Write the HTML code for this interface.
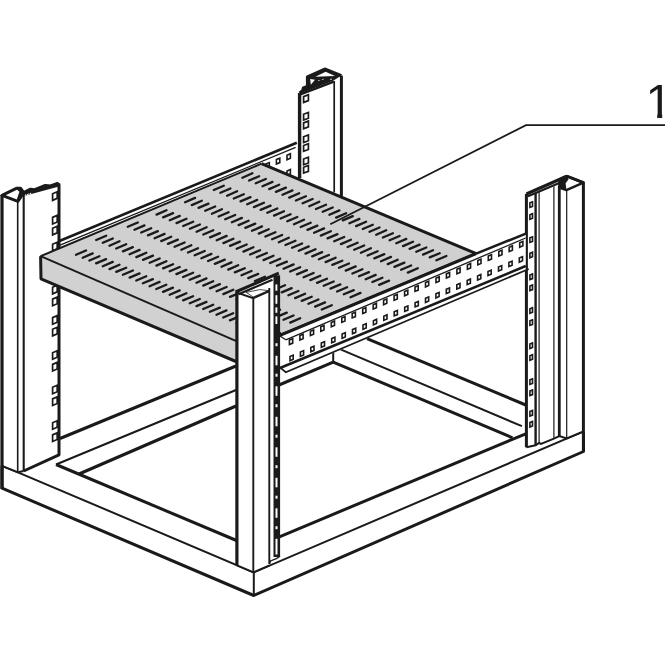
<!DOCTYPE html>
<html><head><meta charset="utf-8"><title>Rack shelf</title>
<style>
html,body{margin:0;padding:0;background:#fff;}
body{position:relative;width:665px;height:665px;overflow:hidden;font-family:"Liberation Sans",sans-serif;}
svg{display:block;position:absolute;left:0;top:0;}
.lbl{position:absolute;left:645.4px;top:77.04px;width:27px;height:48.26px;font-family:"Liberation Sans",sans-serif;font-size:48.26px;line-height:1;color:#1a1a1a;white-space:nowrap;clip-path:polygon(0 0,100% 0,100% 36.9px,16.8px 36.9px,16.8px 100%,11.8px 100%,11.8px 36.9px,0 36.9px);}
</style></head><body>
<svg width="665" height="665" viewBox="0 0 665 665">
<rect width="665" height="665" fill="#fff"/>
<path d="M59.4,241.0 L296.8,142.8 L299.4,144.0 L299.4,178.0 L59.4,278.0 Z" fill="#fff" stroke="none"/>
<path d="M59.4,241.0 L296.8,142.8" fill="none" stroke="#1a1a1a" stroke-width="2.6" stroke-linejoin="miter" stroke-linecap="butt"/>
<path d="M59.4,245.4 L295.6,147.4" fill="none" stroke="#1a1a1a" stroke-width="1.3" stroke-linejoin="miter" stroke-linecap="butt"/>
<path d="M287.0,155.3 L290.4,153.8 L290.4,158.2 L287.0,159.7 Z" fill="#fff" stroke="#1a1a1a" stroke-width="1.6" stroke-linejoin="miter" stroke-linecap="butt"/>
<path d="M276.4,159.6 L279.8,158.2 L279.8,162.6 L276.4,164.0 Z" fill="#fff" stroke="#1a1a1a" stroke-width="1.6" stroke-linejoin="miter" stroke-linecap="butt"/>
<path d="M265.9,164.0 L269.3,162.6 L269.3,167.0 L265.9,168.4 Z" fill="#fff" stroke="#1a1a1a" stroke-width="1.6" stroke-linejoin="miter" stroke-linecap="butt"/>
<path d="M255.4,168.4 L258.8,166.9 L258.8,171.3 L255.4,172.8 Z" fill="#fff" stroke="#1a1a1a" stroke-width="1.6" stroke-linejoin="miter" stroke-linecap="butt"/>
<path d="M244.8,172.7 L248.2,171.3 L248.2,175.7 L244.8,177.1 Z" fill="#fff" stroke="#1a1a1a" stroke-width="1.6" stroke-linejoin="miter" stroke-linecap="butt"/>
<path d="M234.2,177.1 L237.6,175.7 L237.6,180.1 L234.2,181.5 Z" fill="#fff" stroke="#1a1a1a" stroke-width="1.6" stroke-linejoin="miter" stroke-linecap="butt"/>
<path d="M287.0,171.1 L290.4,169.6 L290.4,174.0 L287.0,175.5 Z" fill="#fff" stroke="#1a1a1a" stroke-width="1.6" stroke-linejoin="miter" stroke-linecap="butt"/>
<path d="M276.4,175.4 L279.8,174.0 L279.8,178.4 L276.4,179.8 Z" fill="#fff" stroke="#1a1a1a" stroke-width="1.6" stroke-linejoin="miter" stroke-linecap="butt"/>
<path d="M265.9,179.8 L269.3,178.4 L269.3,182.8 L265.9,184.2 Z" fill="#fff" stroke="#1a1a1a" stroke-width="1.6" stroke-linejoin="miter" stroke-linecap="butt"/>
<path d="M299.6,93.0 L302.6,90.6 L303.3,88.0 L307.4,86.4 L307.4,76.8 L324.7,69.0 L341.4,75.6 L341.4,196.0 L299.6,178.0 Z" fill="#fff" stroke="none"/>
<path d="M307.4,76.8 L324.7,69.0 L341.4,75.6 L333.6,80.6 L300.5,93.6 L299.6,93.0 L302.6,90.6 L303.3,88.0 L307.4,86.4 Z" fill="#1a1a1a" stroke="none"/>
<path d="M315.4,76.8 L325.6,71.8 L335.0,75.9 Z" fill="#fff" stroke="none"/>
<path d="M310.2,79.0 L315.0,79.8 L310.8,84.8 Z" fill="#fff" stroke="none"/>
<path d="M317.6,80.6 L319.4,79.9 L319.4,81.3 Z" fill="#fff" stroke="none"/>
<path d="M321.6,79.4 L323.4,78.7 L323.4,80.1 Z" fill="#fff" stroke="none"/>
<path d="M329.6,79.2 L331.6,78.5 L331.6,79.9 Z" fill="#fff" stroke="none"/>
<path d="M299.6,93.0 L302.6,90.6 L303.3,88.0 L307.4,86.4 L307.4,76.8 L324.7,69.0 L341.4,75.6" fill="none" stroke="#1a1a1a" stroke-width="3.0" stroke-linejoin="round" stroke-linecap="butt"/>
<path d="M300.4,94.4 L333.8,81.6" fill="none" stroke="#1a1a1a" stroke-width="2.4" stroke-linejoin="miter" stroke-linecap="butt"/>
<path d="M334.2,81.0 L334.2,192.5" fill="none" stroke="#1a1a1a" stroke-width="1.7" stroke-linejoin="miter" stroke-linecap="butt"/>
<path d="M341.4,75.6 L341.4,196.0" fill="none" stroke="#1a1a1a" stroke-width="3.0" stroke-linejoin="miter" stroke-linecap="butt"/>
<path d="M299.6,93.0 L299.6,178.0" fill="none" stroke="#1a1a1a" stroke-width="3.4" stroke-linejoin="miter" stroke-linecap="butt"/>
<path d="M303.6,96.6 L308.4,94.8 L308.4,100.6 L303.6,102.4 Z" fill="#fff" stroke="#1a1a1a" stroke-width="1.7" stroke-linejoin="miter" stroke-linecap="butt"/>
<path d="M303.6,114.2 L308.4,112.4 L308.4,118.2 L303.6,120.0 Z" fill="#fff" stroke="#1a1a1a" stroke-width="1.7" stroke-linejoin="miter" stroke-linecap="butt"/>
<path d="M303.6,122.9 L308.4,121.1 L308.4,126.9 L303.6,128.7 Z" fill="#fff" stroke="#1a1a1a" stroke-width="1.7" stroke-linejoin="miter" stroke-linecap="butt"/>
<path d="M303.6,136.7 L308.4,134.9 L308.4,140.7 L303.6,142.5 Z" fill="#fff" stroke="#1a1a1a" stroke-width="1.7" stroke-linejoin="miter" stroke-linecap="butt"/>
<path d="M303.6,145.5 L308.4,143.7 L308.4,149.5 L303.6,151.3 Z" fill="#fff" stroke="#1a1a1a" stroke-width="1.7" stroke-linejoin="miter" stroke-linecap="butt"/>
<path d="M303.6,159.0 L308.4,157.2 L308.4,163.0 L303.6,164.8 Z" fill="#fff" stroke="#1a1a1a" stroke-width="1.7" stroke-linejoin="miter" stroke-linecap="butt"/>
<path d="M303.6,167.3 L308.4,165.5 L308.4,171.3 L303.6,173.1 Z" fill="#fff" stroke="#1a1a1a" stroke-width="1.7" stroke-linejoin="miter" stroke-linecap="butt"/>
<path d="M2.0,465.6 L60.0,438.5 L334.0,326.0 L333.7,349.0 L56.0,464.5 Z" fill="#fff" stroke="none"/>
<path d="M60.0,438.5 L236.0,366.0" fill="none" stroke="#1a1a1a" stroke-width="3.0" stroke-linejoin="miter" stroke-linecap="butt"/>
<path d="M56.0,464.5 L236.0,390.0" fill="none" stroke="#1a1a1a" stroke-width="2.0" stroke-linejoin="miter" stroke-linecap="butt"/>
<path d="M79.0,474.0 L236.0,406.0" fill="none" stroke="#1a1a1a" stroke-width="3.0" stroke-linejoin="miter" stroke-linecap="butt"/>
<path d="M279.0,385.0 L333.2,362.1" fill="none" stroke="#1a1a1a" stroke-width="3.0" stroke-linejoin="miter" stroke-linecap="butt"/>
<path d="M333.2,352.0 L333.2,362.1" fill="none" stroke="#1a1a1a" stroke-width="2.0" stroke-linejoin="miter" stroke-linecap="butt"/>
<path d="M367.0,338.6 L525.8,405.0" fill="none" stroke="#1a1a1a" stroke-width="3.0" stroke-linejoin="miter" stroke-linecap="butt"/>
<path d="M340.5,349.3 L521.9,426.2" fill="none" stroke="#1a1a1a" stroke-width="2.0" stroke-linejoin="miter" stroke-linecap="butt"/>
<path d="M333.2,362.1 L512.5,437.8" fill="none" stroke="#1a1a1a" stroke-width="3.0" stroke-linejoin="miter" stroke-linecap="butt"/>
<path d="M56.0,464.5 L236.5,540.5" fill="none" stroke="#1a1a1a" stroke-width="3.0" stroke-linejoin="miter" stroke-linecap="butt"/>
<path d="M279.4,536.8 L525.8,433.8" fill="none" stroke="#1a1a1a" stroke-width="3.0" stroke-linejoin="miter" stroke-linecap="butt"/>
<path d="M2.0,465.6 L253.8,572.3 L583.5,431.4 L583.5,451.5 L253.8,595.5 L2.0,488.2 Z" fill="#fff" stroke="none"/>
<path d="M2.0,465.6 L253.8,572.3 L583.5,431.4" fill="none" stroke="#1a1a1a" stroke-width="2.0" stroke-linejoin="miter" stroke-linecap="butt"/>
<path d="M253.8,572.3 L253.8,595.5" fill="none" stroke="#1a1a1a" stroke-width="2.0" stroke-linejoin="miter" stroke-linecap="butt"/>
<path d="M2.0,465.6 L2.0,488.2 L253.8,595.5 L583.5,451.5 L583.5,431.4" fill="none" stroke="#1a1a1a" stroke-width="3.0" stroke-linejoin="round" stroke-linecap="butt"/>
<path d="M23.7,192.6 L30.5,189.2 L34.7,189.7 L45.3,185.5 L50.5,186.0 L57.4,183.4 L59.0,184.4 L59.0,454.8 L23.7,471.0 Z" fill="#fff" stroke="none"/>
<path d="M52.6,193.8 L57.2,191.8 L57.2,198.4 L52.6,200.4 Z" fill="#fff" stroke="#1a1a1a" stroke-width="1.7" stroke-linejoin="miter" stroke-linecap="butt"/>
<path d="M52.6,217.4 L57.2,215.4 L57.2,222.0 L52.6,224.0 Z" fill="#fff" stroke="#1a1a1a" stroke-width="1.7" stroke-linejoin="miter" stroke-linecap="butt"/>
<path d="M52.6,228.3 L57.2,226.3 L57.2,232.9 L52.6,234.9 Z" fill="#fff" stroke="#1a1a1a" stroke-width="1.7" stroke-linejoin="miter" stroke-linecap="butt"/>
<path d="M52.6,244.3 L57.2,242.3 L57.2,248.9 L52.6,250.9 Z" fill="#fff" stroke="#1a1a1a" stroke-width="1.7" stroke-linejoin="miter" stroke-linecap="butt"/>
<path d="M52.6,287.3 L57.2,285.3 L57.2,291.9 L52.6,293.9 Z" fill="#fff" stroke="#1a1a1a" stroke-width="1.7" stroke-linejoin="miter" stroke-linecap="butt"/>
<path d="M52.6,299.1 L57.2,297.1 L57.2,303.7 L52.6,305.7 Z" fill="#fff" stroke="#1a1a1a" stroke-width="1.7" stroke-linejoin="miter" stroke-linecap="butt"/>
<path d="M52.6,317.6 L57.2,315.6 L57.2,322.2 L52.6,324.2 Z" fill="#fff" stroke="#1a1a1a" stroke-width="1.7" stroke-linejoin="miter" stroke-linecap="butt"/>
<path d="M52.6,329.3 L57.2,327.3 L57.2,333.9 L52.6,335.9 Z" fill="#fff" stroke="#1a1a1a" stroke-width="1.7" stroke-linejoin="miter" stroke-linecap="butt"/>
<path d="M52.6,352.7 L57.2,350.7 L57.2,357.3 L52.6,359.3 Z" fill="#fff" stroke="#1a1a1a" stroke-width="1.7" stroke-linejoin="miter" stroke-linecap="butt"/>
<path d="M52.6,364.4 L57.2,362.4 L57.2,369.0 L52.6,371.0 Z" fill="#fff" stroke="#1a1a1a" stroke-width="1.7" stroke-linejoin="miter" stroke-linecap="butt"/>
<path d="M52.6,387.2 L57.2,385.2 L57.2,391.8 L52.6,393.8 Z" fill="#fff" stroke="#1a1a1a" stroke-width="1.7" stroke-linejoin="miter" stroke-linecap="butt"/>
<path d="M52.6,398.9 L57.2,396.9 L57.2,403.5 L52.6,405.5 Z" fill="#fff" stroke="#1a1a1a" stroke-width="1.7" stroke-linejoin="miter" stroke-linecap="butt"/>
<path d="M52.6,422.7 L57.2,420.7 L57.2,427.3 L52.6,429.3 Z" fill="#fff" stroke="#1a1a1a" stroke-width="1.7" stroke-linejoin="miter" stroke-linecap="butt"/>
<path d="M52.6,434.9 L57.2,432.9 L57.2,439.5 L52.6,441.5 Z" fill="#fff" stroke="#1a1a1a" stroke-width="1.7" stroke-linejoin="miter" stroke-linecap="butt"/>
<path d="M23.7,192.6 L30.5,189.2 L34.7,189.7 L45.3,185.5 L50.5,186.0 L57.4,183.4 L59.0,184.4 L59.0,454.8 L23.7,471.0" fill="none" stroke="#1a1a1a" stroke-width="3.0" stroke-linejoin="round" stroke-linecap="butt"/>
<path d="M23.7,192.6 L30.5,189.2 L34.7,189.7 L45.3,185.5 L50.5,186.0 L57.4,183.4 L59.0,184.4 L59.0,186.4 L24.0,196.0 Z" fill="#1a1a1a" stroke="none"/>
<path d="M24.6,195.1 L26.2,194.1 L26.2,195.3 L24.6,196.1 Z" fill="#fff" stroke="none"/>
<path d="M27.1,194.3 L28.7,193.3 L28.7,194.5 L27.1,195.3 Z" fill="#fff" stroke="none"/>
<path d="M29.6,193.5 L31.2,192.5 L31.2,193.7 L29.6,194.5 Z" fill="#fff" stroke="none"/>
<path d="M2.0,195.4 L16.8,188.2 L20.5,188.2 L23.7,192.6 L23.7,471.0 L17.7,472.2 L2.0,466.0 Z" fill="#fff" stroke="none"/>
<path d="M2.0,466.0 L17.7,472.2 L23.7,471.0" fill="none" stroke="#1a1a1a" stroke-width="2.0" stroke-linejoin="miter" stroke-linecap="butt"/>
<path d="M2.0,195.4 L16.8,188.2 L20.5,188.2 L23.7,192.6 L17.9,201.3 Z" fill="#fff" stroke="#1a1a1a" stroke-width="3.0" stroke-linejoin="round" stroke-linecap="butt"/>
<path d="M16.6,189.2 L20.5,188.2 L24.0,192.6 L17.9,201.6 L16.8,199.6 L19.4,191.8 Z" fill="#1a1a1a" stroke="none"/>
<path d="M17.7,201.3 L17.7,472.2" fill="none" stroke="#1a1a1a" stroke-width="1.6" stroke-linejoin="miter" stroke-linecap="butt"/>
<path d="M23.7,193.0 L23.7,471.0" fill="none" stroke="#1a1a1a" stroke-width="2.1" stroke-linejoin="miter" stroke-linecap="butt"/>
<path d="M2.0,195.0 L2.0,489.0" fill="none" stroke="#1a1a1a" stroke-width="3.2" stroke-linejoin="miter" stroke-linecap="butt"/>
<path d="M526.4,194.0 L566.7,176.2 L583.4,182.7 L583.4,431.5 L566.7,438.5 L559.3,436.0 L553.9,438.7 L541.0,444.0 L539.1,443.0 L535.6,445.3 L526.4,447.3 Z" fill="#fff" stroke="none"/>
<path d="M583.4,431.5 L566.7,438.5 L559.3,436.0 L553.9,438.7 L541.0,444.0 L539.1,443.0 L535.6,445.3 L526.4,447.3" fill="none" stroke="#1a1a1a" stroke-width="2.0" stroke-linejoin="miter" stroke-linecap="butt"/>
<path d="M526.4,194.0 L566.7,176.2" fill="none" stroke="#1a1a1a" stroke-width="3.2" stroke-linejoin="miter" stroke-linecap="butt"/>
<path d="M528.0,196.2 L559.3,182.9" fill="none" stroke="#1a1a1a" stroke-width="2.2" stroke-linejoin="miter" stroke-linecap="butt"/>
<path d="M559.6,179.4 L566.7,176.2 L583.4,182.7 L566.4,190.2 L559.3,187.6 Z" fill="#fff" stroke="#1a1a1a" stroke-width="2.4" stroke-linejoin="round" stroke-linecap="butt"/>
<path d="M559.6,179.4 L566.7,176.2 L568.6,179.2 L565.6,183.2 L566.4,190.2 L559.3,187.6 Z" fill="#1a1a1a" stroke="none"/>
<path d="M526.4,447.3 L526.4,194.0" fill="none" stroke="#1a1a1a" stroke-width="3.0" stroke-linejoin="miter" stroke-linecap="butt"/>
<path d="M566.7,176.2 L583.4,182.7 L583.4,451.5" fill="none" stroke="#1a1a1a" stroke-width="3.0" stroke-linejoin="round" stroke-linecap="butt"/>
<path d="M535.6,193.0 L535.6,445.0" fill="none" stroke="#1a1a1a" stroke-width="2.4" stroke-linejoin="miter" stroke-linecap="butt"/>
<path d="M539.1,192.0 L539.1,443.5" fill="none" stroke="#1a1a1a" stroke-width="1.2" stroke-linejoin="miter" stroke-linecap="butt"/>
<path d="M553.9,186.5 L553.9,438.7" fill="none" stroke="#1a1a1a" stroke-width="1.2" stroke-linejoin="miter" stroke-linecap="butt"/>
<path d="M559.3,186.0 L559.3,436.2" fill="none" stroke="#1a1a1a" stroke-width="2.8" stroke-linejoin="miter" stroke-linecap="butt"/>
<path d="M566.7,190.2 L566.7,438.5" fill="none" stroke="#1a1a1a" stroke-width="1.2" stroke-linejoin="miter" stroke-linecap="butt"/>
<path d="M529.9,202.8 L532.5,201.8 L532.5,206.4 L529.9,207.4 Z" fill="#fff" stroke="#1a1a1a" stroke-width="1.6" stroke-linejoin="miter" stroke-linecap="butt"/>
<path d="M529.9,214.7 L532.5,213.7 L532.5,218.3 L529.9,219.3 Z" fill="#fff" stroke="#1a1a1a" stroke-width="1.6" stroke-linejoin="miter" stroke-linecap="butt"/>
<path d="M529.9,237.8 L532.5,236.8 L532.5,241.4 L529.9,242.4 Z" fill="#fff" stroke="#1a1a1a" stroke-width="1.6" stroke-linejoin="miter" stroke-linecap="butt"/>
<path d="M529.9,253.2 L532.5,252.2 L532.5,256.8 L529.9,257.8 Z" fill="#fff" stroke="#1a1a1a" stroke-width="1.6" stroke-linejoin="miter" stroke-linecap="butt"/>
<path d="M529.9,275.0 L532.5,274.0 L532.5,278.6 L529.9,279.6 Z" fill="#fff" stroke="#1a1a1a" stroke-width="1.6" stroke-linejoin="miter" stroke-linecap="butt"/>
<path d="M529.9,286.0 L532.5,285.0 L532.5,289.6 L529.9,290.6 Z" fill="#fff" stroke="#1a1a1a" stroke-width="1.6" stroke-linejoin="miter" stroke-linecap="butt"/>
<path d="M529.9,308.7 L532.5,307.7 L532.5,312.3 L529.9,313.3 Z" fill="#fff" stroke="#1a1a1a" stroke-width="1.6" stroke-linejoin="miter" stroke-linecap="butt"/>
<path d="M529.9,320.8 L532.5,319.8 L532.5,324.4 L529.9,325.4 Z" fill="#fff" stroke="#1a1a1a" stroke-width="1.6" stroke-linejoin="miter" stroke-linecap="butt"/>
<path d="M529.9,343.9 L532.5,342.9 L532.5,347.5 L529.9,348.5 Z" fill="#fff" stroke="#1a1a1a" stroke-width="1.6" stroke-linejoin="miter" stroke-linecap="butt"/>
<path d="M529.9,355.7 L532.5,354.7 L532.5,359.3 L529.9,360.3 Z" fill="#fff" stroke="#1a1a1a" stroke-width="1.6" stroke-linejoin="miter" stroke-linecap="butt"/>
<path d="M529.9,379.8 L532.5,378.8 L532.5,383.4 L529.9,384.4 Z" fill="#fff" stroke="#1a1a1a" stroke-width="1.6" stroke-linejoin="miter" stroke-linecap="butt"/>
<path d="M529.9,391.0 L532.5,390.0 L532.5,394.6 L529.9,395.6 Z" fill="#fff" stroke="#1a1a1a" stroke-width="1.6" stroke-linejoin="miter" stroke-linecap="butt"/>
<path d="M529.9,411.5 L532.5,410.5 L532.5,415.1 L529.9,416.1 Z" fill="#fff" stroke="#1a1a1a" stroke-width="1.6" stroke-linejoin="miter" stroke-linecap="butt"/>
<path d="M529.9,422.4 L532.5,421.4 L532.5,426.0 L529.9,427.0 Z" fill="#fff" stroke="#1a1a1a" stroke-width="1.6" stroke-linejoin="miter" stroke-linecap="butt"/>
<path d="M40.6,256.2 L237.5,341.6 L256.0,347.8 L256.0,370.0 L41.0,278.8 Z" fill="#d1d1d1" stroke="none"/>
<path d="M40.6,256.2 L261.5,163.7 L476.2,253.6 L279.4,335.6 L256.0,347.8 L237.5,341.6 Z" fill="#d0d0d0" stroke="none"/>
<path d="M40.6,256.2 L261.5,163.7" fill="none" stroke="#1a1a1a" stroke-width="2.0" stroke-linejoin="miter" stroke-linecap="butt"/>
<path d="M40.6,256.2 L237.5,341.6" fill="none" stroke="#1a1a1a" stroke-width="2.0" stroke-linejoin="miter" stroke-linecap="butt"/>
<path d="M256.0,370.0 L41.0,278.8 L40.6,256.2" fill="none" stroke="#1a1a1a" stroke-width="3.0" stroke-linejoin="round" stroke-linecap="butt"/>
<path d="M261.5,163.7 L476.2,253.6 L279.4,335.6" fill="none" stroke="#1a1a1a" stroke-width="3.0" stroke-linejoin="round" stroke-linecap="butt"/>
<path d="M242.4,177.7 L252.4,173.3" fill="none" stroke="#1a1a1a" stroke-width="2.3" stroke-linejoin="miter" stroke-linecap="round"/>
<path d="M249.1,180.5 L259.1,176.2" fill="none" stroke="#1a1a1a" stroke-width="2.3" stroke-linejoin="miter" stroke-linecap="round"/>
<path d="M255.8,183.3 L265.8,179.0" fill="none" stroke="#1a1a1a" stroke-width="2.3" stroke-linejoin="miter" stroke-linecap="round"/>
<path d="M262.5,186.2 L272.5,181.9" fill="none" stroke="#1a1a1a" stroke-width="2.3" stroke-linejoin="miter" stroke-linecap="round"/>
<path d="M269.2,189.1 L279.2,184.8" fill="none" stroke="#1a1a1a" stroke-width="2.3" stroke-linejoin="miter" stroke-linecap="round"/>
<path d="M275.9,191.9 L285.9,187.6" fill="none" stroke="#1a1a1a" stroke-width="2.3" stroke-linejoin="miter" stroke-linecap="round"/>
<path d="M282.5,194.8 L292.5,190.4" fill="none" stroke="#1a1a1a" stroke-width="2.3" stroke-linejoin="miter" stroke-linecap="round"/>
<path d="M289.2,197.6 L299.2,193.3" fill="none" stroke="#1a1a1a" stroke-width="2.3" stroke-linejoin="miter" stroke-linecap="round"/>
<path d="M295.9,200.5 L305.9,196.2" fill="none" stroke="#1a1a1a" stroke-width="2.3" stroke-linejoin="miter" stroke-linecap="round"/>
<path d="M302.6,203.3 L312.6,199.0" fill="none" stroke="#1a1a1a" stroke-width="2.3" stroke-linejoin="miter" stroke-linecap="round"/>
<path d="M309.3,206.2 L319.3,201.8" fill="none" stroke="#1a1a1a" stroke-width="2.3" stroke-linejoin="miter" stroke-linecap="round"/>
<path d="M316.0,209.0 L326.0,204.7" fill="none" stroke="#1a1a1a" stroke-width="2.3" stroke-linejoin="miter" stroke-linecap="round"/>
<path d="M322.7,211.8 L332.7,207.5" fill="none" stroke="#1a1a1a" stroke-width="2.3" stroke-linejoin="miter" stroke-linecap="round"/>
<path d="M329.4,214.7 L339.4,210.4" fill="none" stroke="#1a1a1a" stroke-width="2.3" stroke-linejoin="miter" stroke-linecap="round"/>
<path d="M336.1,217.6 L346.1,213.2" fill="none" stroke="#1a1a1a" stroke-width="2.3" stroke-linejoin="miter" stroke-linecap="round"/>
<path d="M342.8,220.4 L352.8,216.1" fill="none" stroke="#1a1a1a" stroke-width="2.3" stroke-linejoin="miter" stroke-linecap="round"/>
<path d="M349.4,223.2 L359.4,218.9" fill="none" stroke="#1a1a1a" stroke-width="2.3" stroke-linejoin="miter" stroke-linecap="round"/>
<path d="M356.1,226.1 L366.1,221.8" fill="none" stroke="#1a1a1a" stroke-width="2.3" stroke-linejoin="miter" stroke-linecap="round"/>
<path d="M362.8,229.0 L372.8,224.7" fill="none" stroke="#1a1a1a" stroke-width="2.3" stroke-linejoin="miter" stroke-linecap="round"/>
<path d="M369.5,231.8 L379.5,227.5" fill="none" stroke="#1a1a1a" stroke-width="2.3" stroke-linejoin="miter" stroke-linecap="round"/>
<path d="M376.2,234.7 L386.2,230.3" fill="none" stroke="#1a1a1a" stroke-width="2.3" stroke-linejoin="miter" stroke-linecap="round"/>
<path d="M382.9,237.5 L392.9,233.2" fill="none" stroke="#1a1a1a" stroke-width="2.3" stroke-linejoin="miter" stroke-linecap="round"/>
<path d="M389.6,240.3 L399.6,236.0" fill="none" stroke="#1a1a1a" stroke-width="2.3" stroke-linejoin="miter" stroke-linecap="round"/>
<path d="M396.3,243.2 L406.3,238.9" fill="none" stroke="#1a1a1a" stroke-width="2.3" stroke-linejoin="miter" stroke-linecap="round"/>
<path d="M403.0,246.1 L413.0,241.8" fill="none" stroke="#1a1a1a" stroke-width="2.3" stroke-linejoin="miter" stroke-linecap="round"/>
<path d="M409.6,248.9 L419.6,244.6" fill="none" stroke="#1a1a1a" stroke-width="2.3" stroke-linejoin="miter" stroke-linecap="round"/>
<path d="M416.3,251.8 L426.3,247.5" fill="none" stroke="#1a1a1a" stroke-width="2.3" stroke-linejoin="miter" stroke-linecap="round"/>
<path d="M423.0,254.6 L433.0,250.3" fill="none" stroke="#1a1a1a" stroke-width="2.3" stroke-linejoin="miter" stroke-linecap="round"/>
<path d="M429.7,257.4 L439.7,253.2" fill="none" stroke="#1a1a1a" stroke-width="2.3" stroke-linejoin="miter" stroke-linecap="round"/>
<path d="M436.4,260.3 L446.4,256.0" fill="none" stroke="#1a1a1a" stroke-width="2.3" stroke-linejoin="miter" stroke-linecap="round"/>
<path d="M213.8,190.0 L223.8,185.7" fill="none" stroke="#1a1a1a" stroke-width="2.3" stroke-linejoin="miter" stroke-linecap="round"/>
<path d="M220.4,192.8 L230.4,188.5" fill="none" stroke="#1a1a1a" stroke-width="2.3" stroke-linejoin="miter" stroke-linecap="round"/>
<path d="M227.1,195.7 L237.1,191.3" fill="none" stroke="#1a1a1a" stroke-width="2.3" stroke-linejoin="miter" stroke-linecap="round"/>
<path d="M233.8,198.5 L243.8,194.2" fill="none" stroke="#1a1a1a" stroke-width="2.3" stroke-linejoin="miter" stroke-linecap="round"/>
<path d="M240.5,201.4 L250.5,197.1" fill="none" stroke="#1a1a1a" stroke-width="2.3" stroke-linejoin="miter" stroke-linecap="round"/>
<path d="M247.2,204.2 L257.2,199.9" fill="none" stroke="#1a1a1a" stroke-width="2.3" stroke-linejoin="miter" stroke-linecap="round"/>
<path d="M253.9,207.1 L263.9,202.8" fill="none" stroke="#1a1a1a" stroke-width="2.3" stroke-linejoin="miter" stroke-linecap="round"/>
<path d="M260.6,209.9 L270.6,205.6" fill="none" stroke="#1a1a1a" stroke-width="2.3" stroke-linejoin="miter" stroke-linecap="round"/>
<path d="M267.3,212.8 L277.3,208.5" fill="none" stroke="#1a1a1a" stroke-width="2.3" stroke-linejoin="miter" stroke-linecap="round"/>
<path d="M274.0,215.6 L284.0,211.3" fill="none" stroke="#1a1a1a" stroke-width="2.3" stroke-linejoin="miter" stroke-linecap="round"/>
<path d="M280.6,218.5 L290.6,214.2" fill="none" stroke="#1a1a1a" stroke-width="2.3" stroke-linejoin="miter" stroke-linecap="round"/>
<path d="M287.3,221.3 L297.3,217.0" fill="none" stroke="#1a1a1a" stroke-width="2.3" stroke-linejoin="miter" stroke-linecap="round"/>
<path d="M294.0,224.2 L304.0,219.8" fill="none" stroke="#1a1a1a" stroke-width="2.3" stroke-linejoin="miter" stroke-linecap="round"/>
<path d="M300.7,227.0 L310.7,222.7" fill="none" stroke="#1a1a1a" stroke-width="2.3" stroke-linejoin="miter" stroke-linecap="round"/>
<path d="M307.4,229.9 L317.4,225.6" fill="none" stroke="#1a1a1a" stroke-width="2.3" stroke-linejoin="miter" stroke-linecap="round"/>
<path d="M314.1,232.7 L324.1,228.4" fill="none" stroke="#1a1a1a" stroke-width="2.3" stroke-linejoin="miter" stroke-linecap="round"/>
<path d="M320.8,235.6 L330.8,231.2" fill="none" stroke="#1a1a1a" stroke-width="2.3" stroke-linejoin="miter" stroke-linecap="round"/>
<path d="M327.5,238.4 L337.5,234.1" fill="none" stroke="#1a1a1a" stroke-width="2.3" stroke-linejoin="miter" stroke-linecap="round"/>
<path d="M334.2,241.3 L344.2,237.0" fill="none" stroke="#1a1a1a" stroke-width="2.3" stroke-linejoin="miter" stroke-linecap="round"/>
<path d="M340.9,244.1 L350.9,239.8" fill="none" stroke="#1a1a1a" stroke-width="2.3" stroke-linejoin="miter" stroke-linecap="round"/>
<path d="M347.6,247.0 L357.6,242.7" fill="none" stroke="#1a1a1a" stroke-width="2.3" stroke-linejoin="miter" stroke-linecap="round"/>
<path d="M354.2,249.8 L364.2,245.5" fill="none" stroke="#1a1a1a" stroke-width="2.3" stroke-linejoin="miter" stroke-linecap="round"/>
<path d="M360.9,252.7 L370.9,248.3" fill="none" stroke="#1a1a1a" stroke-width="2.3" stroke-linejoin="miter" stroke-linecap="round"/>
<path d="M367.6,255.5 L377.6,251.2" fill="none" stroke="#1a1a1a" stroke-width="2.3" stroke-linejoin="miter" stroke-linecap="round"/>
<path d="M374.3,258.4 L384.3,254.1" fill="none" stroke="#1a1a1a" stroke-width="2.3" stroke-linejoin="miter" stroke-linecap="round"/>
<path d="M381.0,261.2 L391.0,256.9" fill="none" stroke="#1a1a1a" stroke-width="2.3" stroke-linejoin="miter" stroke-linecap="round"/>
<path d="M387.7,264.1 L397.7,259.8" fill="none" stroke="#1a1a1a" stroke-width="2.3" stroke-linejoin="miter" stroke-linecap="round"/>
<path d="M394.4,266.9 L404.4,262.6" fill="none" stroke="#1a1a1a" stroke-width="2.3" stroke-linejoin="miter" stroke-linecap="round"/>
<path d="M401.1,269.8 L411.1,265.5" fill="none" stroke="#1a1a1a" stroke-width="2.3" stroke-linejoin="miter" stroke-linecap="round"/>
<path d="M407.8,272.6 L417.8,268.3" fill="none" stroke="#1a1a1a" stroke-width="2.3" stroke-linejoin="miter" stroke-linecap="round"/>
<path d="M185.1,202.2 L195.1,197.9" fill="none" stroke="#1a1a1a" stroke-width="2.3" stroke-linejoin="miter" stroke-linecap="round"/>
<path d="M191.8,205.1 L201.8,200.8" fill="none" stroke="#1a1a1a" stroke-width="2.3" stroke-linejoin="miter" stroke-linecap="round"/>
<path d="M198.5,207.9 L208.5,203.6" fill="none" stroke="#1a1a1a" stroke-width="2.3" stroke-linejoin="miter" stroke-linecap="round"/>
<path d="M205.2,210.8 L215.2,206.5" fill="none" stroke="#1a1a1a" stroke-width="2.3" stroke-linejoin="miter" stroke-linecap="round"/>
<path d="M211.9,213.7 L221.9,209.3" fill="none" stroke="#1a1a1a" stroke-width="2.3" stroke-linejoin="miter" stroke-linecap="round"/>
<path d="M218.6,216.5 L228.6,212.2" fill="none" stroke="#1a1a1a" stroke-width="2.3" stroke-linejoin="miter" stroke-linecap="round"/>
<path d="M225.2,219.3 L235.2,215.0" fill="none" stroke="#1a1a1a" stroke-width="2.3" stroke-linejoin="miter" stroke-linecap="round"/>
<path d="M231.9,222.2 L241.9,217.9" fill="none" stroke="#1a1a1a" stroke-width="2.3" stroke-linejoin="miter" stroke-linecap="round"/>
<path d="M238.6,225.1 L248.6,220.8" fill="none" stroke="#1a1a1a" stroke-width="2.3" stroke-linejoin="miter" stroke-linecap="round"/>
<path d="M245.3,227.9 L255.3,223.6" fill="none" stroke="#1a1a1a" stroke-width="2.3" stroke-linejoin="miter" stroke-linecap="round"/>
<path d="M252.0,230.8 L262.0,226.4" fill="none" stroke="#1a1a1a" stroke-width="2.3" stroke-linejoin="miter" stroke-linecap="round"/>
<path d="M258.7,233.6 L268.7,229.3" fill="none" stroke="#1a1a1a" stroke-width="2.3" stroke-linejoin="miter" stroke-linecap="round"/>
<path d="M265.4,236.5 L275.4,232.2" fill="none" stroke="#1a1a1a" stroke-width="2.3" stroke-linejoin="miter" stroke-linecap="round"/>
<path d="M272.1,239.3 L282.1,235.0" fill="none" stroke="#1a1a1a" stroke-width="2.3" stroke-linejoin="miter" stroke-linecap="round"/>
<path d="M278.8,242.2 L288.8,237.8" fill="none" stroke="#1a1a1a" stroke-width="2.3" stroke-linejoin="miter" stroke-linecap="round"/>
<path d="M285.5,245.0 L295.5,240.7" fill="none" stroke="#1a1a1a" stroke-width="2.3" stroke-linejoin="miter" stroke-linecap="round"/>
<path d="M292.1,247.8 L302.1,243.5" fill="none" stroke="#1a1a1a" stroke-width="2.3" stroke-linejoin="miter" stroke-linecap="round"/>
<path d="M298.8,250.7 L308.8,246.4" fill="none" stroke="#1a1a1a" stroke-width="2.3" stroke-linejoin="miter" stroke-linecap="round"/>
<path d="M305.5,253.6 L315.5,249.2" fill="none" stroke="#1a1a1a" stroke-width="2.3" stroke-linejoin="miter" stroke-linecap="round"/>
<path d="M312.2,256.4 L322.2,252.1" fill="none" stroke="#1a1a1a" stroke-width="2.3" stroke-linejoin="miter" stroke-linecap="round"/>
<path d="M318.9,259.2 L328.9,255.0" fill="none" stroke="#1a1a1a" stroke-width="2.3" stroke-linejoin="miter" stroke-linecap="round"/>
<path d="M325.6,262.1 L335.6,257.8" fill="none" stroke="#1a1a1a" stroke-width="2.3" stroke-linejoin="miter" stroke-linecap="round"/>
<path d="M332.3,264.9 L342.3,260.7" fill="none" stroke="#1a1a1a" stroke-width="2.3" stroke-linejoin="miter" stroke-linecap="round"/>
<path d="M339.0,267.8 L349.0,263.5" fill="none" stroke="#1a1a1a" stroke-width="2.3" stroke-linejoin="miter" stroke-linecap="round"/>
<path d="M345.7,270.6 L355.7,266.4" fill="none" stroke="#1a1a1a" stroke-width="2.3" stroke-linejoin="miter" stroke-linecap="round"/>
<path d="M352.4,273.5 L362.4,269.2" fill="none" stroke="#1a1a1a" stroke-width="2.3" stroke-linejoin="miter" stroke-linecap="round"/>
<path d="M359.0,276.3 L369.0,272.1" fill="none" stroke="#1a1a1a" stroke-width="2.3" stroke-linejoin="miter" stroke-linecap="round"/>
<path d="M365.7,279.2 L375.7,274.9" fill="none" stroke="#1a1a1a" stroke-width="2.3" stroke-linejoin="miter" stroke-linecap="round"/>
<path d="M372.4,282.0 L382.4,277.8" fill="none" stroke="#1a1a1a" stroke-width="2.3" stroke-linejoin="miter" stroke-linecap="round"/>
<path d="M379.1,284.9 L389.1,280.6" fill="none" stroke="#1a1a1a" stroke-width="2.3" stroke-linejoin="miter" stroke-linecap="round"/>
<path d="M156.5,214.6 L166.5,210.2" fill="none" stroke="#1a1a1a" stroke-width="2.3" stroke-linejoin="miter" stroke-linecap="round"/>
<path d="M163.1,217.4 L173.1,213.1" fill="none" stroke="#1a1a1a" stroke-width="2.3" stroke-linejoin="miter" stroke-linecap="round"/>
<path d="M169.8,220.2 L179.8,215.9" fill="none" stroke="#1a1a1a" stroke-width="2.3" stroke-linejoin="miter" stroke-linecap="round"/>
<path d="M176.5,223.1 L186.5,218.8" fill="none" stroke="#1a1a1a" stroke-width="2.3" stroke-linejoin="miter" stroke-linecap="round"/>
<path d="M183.2,226.0 L193.2,221.7" fill="none" stroke="#1a1a1a" stroke-width="2.3" stroke-linejoin="miter" stroke-linecap="round"/>
<path d="M189.9,228.8 L199.9,224.5" fill="none" stroke="#1a1a1a" stroke-width="2.3" stroke-linejoin="miter" stroke-linecap="round"/>
<path d="M196.6,231.7 L206.6,227.3" fill="none" stroke="#1a1a1a" stroke-width="2.3" stroke-linejoin="miter" stroke-linecap="round"/>
<path d="M203.3,234.5 L213.3,230.2" fill="none" stroke="#1a1a1a" stroke-width="2.3" stroke-linejoin="miter" stroke-linecap="round"/>
<path d="M210.0,237.4 L220.0,233.1" fill="none" stroke="#1a1a1a" stroke-width="2.3" stroke-linejoin="miter" stroke-linecap="round"/>
<path d="M216.7,240.2 L226.7,235.9" fill="none" stroke="#1a1a1a" stroke-width="2.3" stroke-linejoin="miter" stroke-linecap="round"/>
<path d="M223.4,243.1 L233.4,238.8" fill="none" stroke="#1a1a1a" stroke-width="2.3" stroke-linejoin="miter" stroke-linecap="round"/>
<path d="M230.0,245.9 L240.0,241.6" fill="none" stroke="#1a1a1a" stroke-width="2.3" stroke-linejoin="miter" stroke-linecap="round"/>
<path d="M236.7,248.8 L246.7,244.5" fill="none" stroke="#1a1a1a" stroke-width="2.3" stroke-linejoin="miter" stroke-linecap="round"/>
<path d="M243.4,251.6 L253.4,247.3" fill="none" stroke="#1a1a1a" stroke-width="2.3" stroke-linejoin="miter" stroke-linecap="round"/>
<path d="M250.1,254.5 L260.1,250.2" fill="none" stroke="#1a1a1a" stroke-width="2.3" stroke-linejoin="miter" stroke-linecap="round"/>
<path d="M256.8,257.3 L266.8,253.0" fill="none" stroke="#1a1a1a" stroke-width="2.3" stroke-linejoin="miter" stroke-linecap="round"/>
<path d="M263.5,260.1 L273.5,255.8" fill="none" stroke="#1a1a1a" stroke-width="2.3" stroke-linejoin="miter" stroke-linecap="round"/>
<path d="M270.2,263.0 L280.2,258.7" fill="none" stroke="#1a1a1a" stroke-width="2.3" stroke-linejoin="miter" stroke-linecap="round"/>
<path d="M276.9,265.8 L286.9,261.6" fill="none" stroke="#1a1a1a" stroke-width="2.3" stroke-linejoin="miter" stroke-linecap="round"/>
<path d="M283.6,268.7 L293.6,264.4" fill="none" stroke="#1a1a1a" stroke-width="2.3" stroke-linejoin="miter" stroke-linecap="round"/>
<path d="M290.2,271.5 L300.2,267.2" fill="none" stroke="#1a1a1a" stroke-width="2.3" stroke-linejoin="miter" stroke-linecap="round"/>
<path d="M296.9,274.4 L306.9,270.1" fill="none" stroke="#1a1a1a" stroke-width="2.3" stroke-linejoin="miter" stroke-linecap="round"/>
<path d="M303.6,277.2 L313.6,273.0" fill="none" stroke="#1a1a1a" stroke-width="2.3" stroke-linejoin="miter" stroke-linecap="round"/>
<path d="M310.3,280.1 L320.3,275.8" fill="none" stroke="#1a1a1a" stroke-width="2.3" stroke-linejoin="miter" stroke-linecap="round"/>
<path d="M317.0,282.9 L327.0,278.7" fill="none" stroke="#1a1a1a" stroke-width="2.3" stroke-linejoin="miter" stroke-linecap="round"/>
<path d="M323.7,285.8 L333.7,281.5" fill="none" stroke="#1a1a1a" stroke-width="2.3" stroke-linejoin="miter" stroke-linecap="round"/>
<path d="M330.4,288.6 L340.4,284.4" fill="none" stroke="#1a1a1a" stroke-width="2.3" stroke-linejoin="miter" stroke-linecap="round"/>
<path d="M337.1,291.5 L347.1,287.2" fill="none" stroke="#1a1a1a" stroke-width="2.3" stroke-linejoin="miter" stroke-linecap="round"/>
<path d="M343.8,294.3 L353.8,290.1" fill="none" stroke="#1a1a1a" stroke-width="2.3" stroke-linejoin="miter" stroke-linecap="round"/>
<path d="M350.5,297.2 L360.5,292.9" fill="none" stroke="#1a1a1a" stroke-width="2.3" stroke-linejoin="miter" stroke-linecap="round"/>
<path d="M127.8,226.8 L137.8,222.5" fill="none" stroke="#1a1a1a" stroke-width="2.3" stroke-linejoin="miter" stroke-linecap="round"/>
<path d="M134.5,229.7 L144.5,225.4" fill="none" stroke="#1a1a1a" stroke-width="2.3" stroke-linejoin="miter" stroke-linecap="round"/>
<path d="M141.2,232.5 L151.2,228.2" fill="none" stroke="#1a1a1a" stroke-width="2.3" stroke-linejoin="miter" stroke-linecap="round"/>
<path d="M147.9,235.4 L157.9,231.1" fill="none" stroke="#1a1a1a" stroke-width="2.3" stroke-linejoin="miter" stroke-linecap="round"/>
<path d="M154.6,238.2 L164.6,233.9" fill="none" stroke="#1a1a1a" stroke-width="2.3" stroke-linejoin="miter" stroke-linecap="round"/>
<path d="M161.2,241.1 L171.2,236.8" fill="none" stroke="#1a1a1a" stroke-width="2.3" stroke-linejoin="miter" stroke-linecap="round"/>
<path d="M167.9,243.9 L177.9,239.6" fill="none" stroke="#1a1a1a" stroke-width="2.3" stroke-linejoin="miter" stroke-linecap="round"/>
<path d="M174.6,246.8 L184.6,242.5" fill="none" stroke="#1a1a1a" stroke-width="2.3" stroke-linejoin="miter" stroke-linecap="round"/>
<path d="M181.3,249.7 L191.3,245.3" fill="none" stroke="#1a1a1a" stroke-width="2.3" stroke-linejoin="miter" stroke-linecap="round"/>
<path d="M188.0,252.5 L198.0,248.2" fill="none" stroke="#1a1a1a" stroke-width="2.3" stroke-linejoin="miter" stroke-linecap="round"/>
<path d="M194.7,255.3 L204.7,251.0" fill="none" stroke="#1a1a1a" stroke-width="2.3" stroke-linejoin="miter" stroke-linecap="round"/>
<path d="M201.4,258.2 L211.4,253.9" fill="none" stroke="#1a1a1a" stroke-width="2.3" stroke-linejoin="miter" stroke-linecap="round"/>
<path d="M208.1,261.0 L218.1,256.8" fill="none" stroke="#1a1a1a" stroke-width="2.3" stroke-linejoin="miter" stroke-linecap="round"/>
<path d="M214.8,263.9 L224.8,259.6" fill="none" stroke="#1a1a1a" stroke-width="2.3" stroke-linejoin="miter" stroke-linecap="round"/>
<path d="M221.5,266.7 L231.5,262.4" fill="none" stroke="#1a1a1a" stroke-width="2.3" stroke-linejoin="miter" stroke-linecap="round"/>
<path d="M228.2,269.6 L238.2,265.3" fill="none" stroke="#1a1a1a" stroke-width="2.3" stroke-linejoin="miter" stroke-linecap="round"/>
<path d="M234.8,272.4 L244.8,268.2" fill="none" stroke="#1a1a1a" stroke-width="2.3" stroke-linejoin="miter" stroke-linecap="round"/>
<path d="M241.5,275.3 L251.5,271.0" fill="none" stroke="#1a1a1a" stroke-width="2.3" stroke-linejoin="miter" stroke-linecap="round"/>
<path d="M248.2,278.1 L258.2,273.9" fill="none" stroke="#1a1a1a" stroke-width="2.3" stroke-linejoin="miter" stroke-linecap="round"/>
<path d="M254.9,281.0 L264.9,276.7" fill="none" stroke="#1a1a1a" stroke-width="2.3" stroke-linejoin="miter" stroke-linecap="round"/>
<path d="M261.6,283.8 L271.6,279.6" fill="none" stroke="#1a1a1a" stroke-width="2.3" stroke-linejoin="miter" stroke-linecap="round"/>
<path d="M268.3,286.7 L278.3,282.4" fill="none" stroke="#1a1a1a" stroke-width="2.3" stroke-linejoin="miter" stroke-linecap="round"/>
<path d="M275.0,289.5 L285.0,285.2" fill="none" stroke="#1a1a1a" stroke-width="2.3" stroke-linejoin="miter" stroke-linecap="round"/>
<path d="M281.7,292.4 L291.7,288.1" fill="none" stroke="#1a1a1a" stroke-width="2.3" stroke-linejoin="miter" stroke-linecap="round"/>
<path d="M288.4,295.2 L298.4,291.0" fill="none" stroke="#1a1a1a" stroke-width="2.3" stroke-linejoin="miter" stroke-linecap="round"/>
<path d="M295.1,298.1 L305.1,293.8" fill="none" stroke="#1a1a1a" stroke-width="2.3" stroke-linejoin="miter" stroke-linecap="round"/>
<path d="M301.7,300.9 L311.7,296.7" fill="none" stroke="#1a1a1a" stroke-width="2.3" stroke-linejoin="miter" stroke-linecap="round"/>
<path d="M308.4,303.8 L318.4,299.5" fill="none" stroke="#1a1a1a" stroke-width="2.3" stroke-linejoin="miter" stroke-linecap="round"/>
<path d="M315.1,306.6 L325.1,302.4" fill="none" stroke="#1a1a1a" stroke-width="2.3" stroke-linejoin="miter" stroke-linecap="round"/>
<path d="M321.8,309.5 L331.8,305.2" fill="none" stroke="#1a1a1a" stroke-width="2.3" stroke-linejoin="miter" stroke-linecap="round"/>
<path d="M96.2,240.0 L106.2,235.7" fill="none" stroke="#1a1a1a" stroke-width="2.3" stroke-linejoin="miter" stroke-linecap="round"/>
<path d="M102.8,242.8 L112.8,238.5" fill="none" stroke="#1a1a1a" stroke-width="2.3" stroke-linejoin="miter" stroke-linecap="round"/>
<path d="M109.5,245.7 L119.5,241.3" fill="none" stroke="#1a1a1a" stroke-width="2.3" stroke-linejoin="miter" stroke-linecap="round"/>
<path d="M116.2,248.5 L126.2,244.2" fill="none" stroke="#1a1a1a" stroke-width="2.3" stroke-linejoin="miter" stroke-linecap="round"/>
<path d="M122.9,251.4 L132.9,247.1" fill="none" stroke="#1a1a1a" stroke-width="2.3" stroke-linejoin="miter" stroke-linecap="round"/>
<path d="M129.6,254.2 L139.6,249.9" fill="none" stroke="#1a1a1a" stroke-width="2.3" stroke-linejoin="miter" stroke-linecap="round"/>
<path d="M136.3,257.1 L146.3,252.8" fill="none" stroke="#1a1a1a" stroke-width="2.3" stroke-linejoin="miter" stroke-linecap="round"/>
<path d="M143.0,259.9 L153.0,255.6" fill="none" stroke="#1a1a1a" stroke-width="2.3" stroke-linejoin="miter" stroke-linecap="round"/>
<path d="M149.7,262.8 L159.7,258.5" fill="none" stroke="#1a1a1a" stroke-width="2.3" stroke-linejoin="miter" stroke-linecap="round"/>
<path d="M156.4,265.6 L166.4,261.3" fill="none" stroke="#1a1a1a" stroke-width="2.3" stroke-linejoin="miter" stroke-linecap="round"/>
<path d="M163.1,268.4 L173.1,264.2" fill="none" stroke="#1a1a1a" stroke-width="2.3" stroke-linejoin="miter" stroke-linecap="round"/>
<path d="M169.7,271.3 L179.7,267.0" fill="none" stroke="#1a1a1a" stroke-width="2.3" stroke-linejoin="miter" stroke-linecap="round"/>
<path d="M176.4,274.1 L186.4,269.9" fill="none" stroke="#1a1a1a" stroke-width="2.3" stroke-linejoin="miter" stroke-linecap="round"/>
<path d="M183.1,277.0 L193.1,272.7" fill="none" stroke="#1a1a1a" stroke-width="2.3" stroke-linejoin="miter" stroke-linecap="round"/>
<path d="M189.8,279.8 L199.8,275.6" fill="none" stroke="#1a1a1a" stroke-width="2.3" stroke-linejoin="miter" stroke-linecap="round"/>
<path d="M196.5,282.7 L206.5,278.4" fill="none" stroke="#1a1a1a" stroke-width="2.3" stroke-linejoin="miter" stroke-linecap="round"/>
<path d="M203.2,285.6 L213.2,281.3" fill="none" stroke="#1a1a1a" stroke-width="2.3" stroke-linejoin="miter" stroke-linecap="round"/>
<path d="M209.9,288.4 L219.9,284.1" fill="none" stroke="#1a1a1a" stroke-width="2.3" stroke-linejoin="miter" stroke-linecap="round"/>
<path d="M216.6,291.2 L226.6,287.0" fill="none" stroke="#1a1a1a" stroke-width="2.3" stroke-linejoin="miter" stroke-linecap="round"/>
<path d="M223.3,294.1 L233.3,289.8" fill="none" stroke="#1a1a1a" stroke-width="2.3" stroke-linejoin="miter" stroke-linecap="round"/>
<path d="M230.0,296.9 L240.0,292.7" fill="none" stroke="#1a1a1a" stroke-width="2.3" stroke-linejoin="miter" stroke-linecap="round"/>
<path d="M236.6,299.8 L246.6,295.5" fill="none" stroke="#1a1a1a" stroke-width="2.3" stroke-linejoin="miter" stroke-linecap="round"/>
<path d="M243.3,302.6 L253.3,298.4" fill="none" stroke="#1a1a1a" stroke-width="2.3" stroke-linejoin="miter" stroke-linecap="round"/>
<path d="M250.0,305.5 L260.0,301.2" fill="none" stroke="#1a1a1a" stroke-width="2.3" stroke-linejoin="miter" stroke-linecap="round"/>
<path d="M256.7,308.4 L266.7,304.1" fill="none" stroke="#1a1a1a" stroke-width="2.3" stroke-linejoin="miter" stroke-linecap="round"/>
<path d="M263.4,311.2 L273.4,306.9" fill="none" stroke="#1a1a1a" stroke-width="2.3" stroke-linejoin="miter" stroke-linecap="round"/>
<path d="M270.1,314.1 L280.1,309.8" fill="none" stroke="#1a1a1a" stroke-width="2.3" stroke-linejoin="miter" stroke-linecap="round"/>
<path d="M276.8,316.9 L286.8,312.6" fill="none" stroke="#1a1a1a" stroke-width="2.3" stroke-linejoin="miter" stroke-linecap="round"/>
<path d="M283.5,319.8 L293.5,315.5" fill="none" stroke="#1a1a1a" stroke-width="2.3" stroke-linejoin="miter" stroke-linecap="round"/>
<path d="M290.2,322.6 L300.2,318.3" fill="none" stroke="#1a1a1a" stroke-width="2.3" stroke-linejoin="miter" stroke-linecap="round"/>
<path d="M76.0,254.8 L86.0,250.5" fill="none" stroke="#1a1a1a" stroke-width="2.3" stroke-linejoin="miter" stroke-linecap="round"/>
<path d="M82.7,257.7 L92.7,253.4" fill="none" stroke="#1a1a1a" stroke-width="2.3" stroke-linejoin="miter" stroke-linecap="round"/>
<path d="M89.4,260.5 L99.4,256.2" fill="none" stroke="#1a1a1a" stroke-width="2.3" stroke-linejoin="miter" stroke-linecap="round"/>
<path d="M96.1,263.4 L106.1,259.1" fill="none" stroke="#1a1a1a" stroke-width="2.3" stroke-linejoin="miter" stroke-linecap="round"/>
<path d="M102.8,266.2 L112.8,261.9" fill="none" stroke="#1a1a1a" stroke-width="2.3" stroke-linejoin="miter" stroke-linecap="round"/>
<path d="M109.5,269.1 L119.5,264.8" fill="none" stroke="#1a1a1a" stroke-width="2.3" stroke-linejoin="miter" stroke-linecap="round"/>
<path d="M116.2,271.9 L126.2,267.7" fill="none" stroke="#1a1a1a" stroke-width="2.3" stroke-linejoin="miter" stroke-linecap="round"/>
<path d="M122.9,274.8 L132.9,270.5" fill="none" stroke="#1a1a1a" stroke-width="2.3" stroke-linejoin="miter" stroke-linecap="round"/>
<path d="M129.6,277.6 L139.6,273.4" fill="none" stroke="#1a1a1a" stroke-width="2.3" stroke-linejoin="miter" stroke-linecap="round"/>
<path d="M136.3,280.5 L146.3,276.2" fill="none" stroke="#1a1a1a" stroke-width="2.3" stroke-linejoin="miter" stroke-linecap="round"/>
<path d="M142.9,283.3 L152.9,279.1" fill="none" stroke="#1a1a1a" stroke-width="2.3" stroke-linejoin="miter" stroke-linecap="round"/>
<path d="M149.6,286.2 L159.6,281.9" fill="none" stroke="#1a1a1a" stroke-width="2.3" stroke-linejoin="miter" stroke-linecap="round"/>
<path d="M156.3,289.0 L166.3,284.8" fill="none" stroke="#1a1a1a" stroke-width="2.3" stroke-linejoin="miter" stroke-linecap="round"/>
<path d="M163.0,291.9 L173.0,287.6" fill="none" stroke="#1a1a1a" stroke-width="2.3" stroke-linejoin="miter" stroke-linecap="round"/>
<path d="M169.7,294.7 L179.7,290.4" fill="none" stroke="#1a1a1a" stroke-width="2.3" stroke-linejoin="miter" stroke-linecap="round"/>
<path d="M176.4,297.6 L186.4,293.3" fill="none" stroke="#1a1a1a" stroke-width="2.3" stroke-linejoin="miter" stroke-linecap="round"/>
<path d="M183.1,300.4 L193.1,296.2" fill="none" stroke="#1a1a1a" stroke-width="2.3" stroke-linejoin="miter" stroke-linecap="round"/>
<path d="M189.8,303.3 L199.8,299.0" fill="none" stroke="#1a1a1a" stroke-width="2.3" stroke-linejoin="miter" stroke-linecap="round"/>
<path d="M196.5,306.1 L206.5,301.9" fill="none" stroke="#1a1a1a" stroke-width="2.3" stroke-linejoin="miter" stroke-linecap="round"/>
<path d="M203.2,309.0 L213.2,304.7" fill="none" stroke="#1a1a1a" stroke-width="2.3" stroke-linejoin="miter" stroke-linecap="round"/>
<path d="M209.9,311.8 L219.9,307.6" fill="none" stroke="#1a1a1a" stroke-width="2.3" stroke-linejoin="miter" stroke-linecap="round"/>
<path d="M216.5,314.7 L226.5,310.4" fill="none" stroke="#1a1a1a" stroke-width="2.3" stroke-linejoin="miter" stroke-linecap="round"/>
<path d="M223.2,317.5 L233.2,313.2" fill="none" stroke="#1a1a1a" stroke-width="2.3" stroke-linejoin="miter" stroke-linecap="round"/>
<path d="M229.9,320.4 L239.9,316.1" fill="none" stroke="#1a1a1a" stroke-width="2.3" stroke-linejoin="miter" stroke-linecap="round"/>
<path d="M236.6,323.2 L246.6,319.0" fill="none" stroke="#1a1a1a" stroke-width="2.3" stroke-linejoin="miter" stroke-linecap="round"/>
<path d="M243.3,326.1 L253.3,321.8" fill="none" stroke="#1a1a1a" stroke-width="2.3" stroke-linejoin="miter" stroke-linecap="round"/>
<path d="M250.0,328.9 L260.0,324.7" fill="none" stroke="#1a1a1a" stroke-width="2.3" stroke-linejoin="miter" stroke-linecap="round"/>
<path d="M256.7,331.8 L266.7,327.5" fill="none" stroke="#1a1a1a" stroke-width="2.3" stroke-linejoin="miter" stroke-linecap="round"/>
<path d="M263.4,334.6 L273.4,330.4" fill="none" stroke="#1a1a1a" stroke-width="2.3" stroke-linejoin="miter" stroke-linecap="round"/>
<path d="M270.1,337.5 L280.1,333.2" fill="none" stroke="#1a1a1a" stroke-width="2.3" stroke-linejoin="miter" stroke-linecap="round"/>
<path d="M279.4,335.6 L525.8,233.6 L525.8,270.0 L287.0,373.0 Z" fill="#fff" stroke="none"/>
<path d="M280.5,367.9 L285.8,372.2 L528.7,269.0" fill="none" stroke="#1a1a1a" stroke-width="1.7" stroke-linejoin="miter" stroke-linecap="butt"/>
<path d="M279.4,368.3 L525.8,266.0" fill="none" stroke="#1a1a1a" stroke-width="2.6" stroke-linejoin="miter" stroke-linecap="butt"/>
<path d="M279.4,335.6 L476.2,253.6" fill="none" stroke="#1a1a1a" stroke-width="3.0" stroke-linejoin="miter" stroke-linecap="butt"/>
<path d="M476.2,253.6 L525.8,233.6" fill="none" stroke="#1a1a1a" stroke-width="2.6" stroke-linejoin="miter" stroke-linecap="butt"/>
<path d="M285.8,339.8 L525.6,238.0" fill="none" stroke="#1a1a1a" stroke-width="1.3" stroke-linejoin="miter" stroke-linecap="butt"/>
<path d="M280.0,336.0 L285.8,339.8" fill="none" stroke="#1a1a1a" stroke-width="1.3" stroke-linejoin="miter" stroke-linecap="butt"/>
<path d="M289.4,340.1 L292.7,338.7 L292.7,343.1 L289.4,344.5 Z" fill="#fff" stroke="#1a1a1a" stroke-width="1.6" stroke-linejoin="miter" stroke-linecap="butt"/>
<path d="M290.0,356.5 L293.2,355.1 L293.2,359.3 L290.0,360.7 Z" fill="#fff" stroke="#1a1a1a" stroke-width="1.6" stroke-linejoin="miter" stroke-linecap="butt"/>
<path d="M299.9,335.6 L303.1,334.3 L303.1,338.7 L299.9,340.0 Z" fill="#fff" stroke="#1a1a1a" stroke-width="1.6" stroke-linejoin="miter" stroke-linecap="butt"/>
<path d="M300.4,352.0 L303.6,350.7 L303.6,354.9 L300.4,356.2 Z" fill="#fff" stroke="#1a1a1a" stroke-width="1.6" stroke-linejoin="miter" stroke-linecap="butt"/>
<path d="M310.4,331.2 L313.6,329.9 L313.6,334.3 L310.4,335.6 Z" fill="#fff" stroke="#1a1a1a" stroke-width="1.6" stroke-linejoin="miter" stroke-linecap="butt"/>
<path d="M310.8,347.5 L314.0,346.2 L314.0,350.4 L310.8,351.7 Z" fill="#fff" stroke="#1a1a1a" stroke-width="1.6" stroke-linejoin="miter" stroke-linecap="butt"/>
<path d="M320.8,326.8 L324.0,325.5 L324.0,329.9 L320.8,331.2 Z" fill="#fff" stroke="#1a1a1a" stroke-width="1.6" stroke-linejoin="miter" stroke-linecap="butt"/>
<path d="M321.3,343.0 L324.5,341.7 L324.5,345.9 L321.3,347.2 Z" fill="#fff" stroke="#1a1a1a" stroke-width="1.6" stroke-linejoin="miter" stroke-linecap="butt"/>
<path d="M331.3,322.4 L334.5,321.0 L334.5,325.4 L331.3,326.8 Z" fill="#fff" stroke="#1a1a1a" stroke-width="1.6" stroke-linejoin="miter" stroke-linecap="butt"/>
<path d="M331.7,338.6 L334.9,337.2 L334.9,341.4 L331.7,342.8 Z" fill="#fff" stroke="#1a1a1a" stroke-width="1.6" stroke-linejoin="miter" stroke-linecap="butt"/>
<path d="M341.8,318.0 L345.0,316.6 L345.0,321.0 L341.8,322.4 Z" fill="#fff" stroke="#1a1a1a" stroke-width="1.6" stroke-linejoin="miter" stroke-linecap="butt"/>
<path d="M342.1,334.1 L345.3,332.7 L345.3,336.9 L342.1,338.3 Z" fill="#fff" stroke="#1a1a1a" stroke-width="1.6" stroke-linejoin="miter" stroke-linecap="butt"/>
<path d="M352.2,313.5 L355.4,312.2 L355.4,316.6 L352.2,317.9 Z" fill="#fff" stroke="#1a1a1a" stroke-width="1.6" stroke-linejoin="miter" stroke-linecap="butt"/>
<path d="M352.5,329.6 L355.7,328.3 L355.7,332.5 L352.5,333.8 Z" fill="#fff" stroke="#1a1a1a" stroke-width="1.6" stroke-linejoin="miter" stroke-linecap="butt"/>
<path d="M362.7,309.1 L365.9,307.8 L365.9,312.2 L362.7,313.5 Z" fill="#fff" stroke="#1a1a1a" stroke-width="1.6" stroke-linejoin="miter" stroke-linecap="butt"/>
<path d="M363.0,325.1 L366.2,323.8 L366.2,328.0 L363.0,329.3 Z" fill="#fff" stroke="#1a1a1a" stroke-width="1.6" stroke-linejoin="miter" stroke-linecap="butt"/>
<path d="M373.2,304.7 L376.4,303.3 L376.4,307.7 L373.2,309.1 Z" fill="#fff" stroke="#1a1a1a" stroke-width="1.6" stroke-linejoin="miter" stroke-linecap="butt"/>
<path d="M373.4,320.7 L376.6,319.3 L376.6,323.5 L373.4,324.9 Z" fill="#fff" stroke="#1a1a1a" stroke-width="1.6" stroke-linejoin="miter" stroke-linecap="butt"/>
<path d="M383.6,300.3 L386.8,298.9 L386.8,303.3 L383.6,304.7 Z" fill="#fff" stroke="#1a1a1a" stroke-width="1.6" stroke-linejoin="miter" stroke-linecap="butt"/>
<path d="M383.8,316.2 L387.0,314.8 L387.0,319.0 L383.8,320.4 Z" fill="#fff" stroke="#1a1a1a" stroke-width="1.6" stroke-linejoin="miter" stroke-linecap="butt"/>
<path d="M394.1,295.8 L397.3,294.5 L397.3,298.9 L394.1,300.2 Z" fill="#fff" stroke="#1a1a1a" stroke-width="1.6" stroke-linejoin="miter" stroke-linecap="butt"/>
<path d="M394.2,311.7 L397.4,310.4 L397.4,314.6 L394.2,315.9 Z" fill="#fff" stroke="#1a1a1a" stroke-width="1.6" stroke-linejoin="miter" stroke-linecap="butt"/>
<path d="M404.6,291.4 L407.8,290.1 L407.8,294.5 L404.6,295.8 Z" fill="#fff" stroke="#1a1a1a" stroke-width="1.6" stroke-linejoin="miter" stroke-linecap="butt"/>
<path d="M404.7,307.2 L407.9,305.9 L407.9,310.1 L404.7,311.4 Z" fill="#fff" stroke="#1a1a1a" stroke-width="1.6" stroke-linejoin="miter" stroke-linecap="butt"/>
<path d="M415.0,287.0 L418.2,285.7 L418.2,290.1 L415.0,291.4 Z" fill="#fff" stroke="#1a1a1a" stroke-width="1.6" stroke-linejoin="miter" stroke-linecap="butt"/>
<path d="M415.1,302.7 L418.3,301.4 L418.3,305.6 L415.1,306.9 Z" fill="#fff" stroke="#1a1a1a" stroke-width="1.6" stroke-linejoin="miter" stroke-linecap="butt"/>
<path d="M425.5,282.6 L428.7,281.2 L428.7,285.6 L425.5,287.0 Z" fill="#fff" stroke="#1a1a1a" stroke-width="1.6" stroke-linejoin="miter" stroke-linecap="butt"/>
<path d="M425.5,298.3 L428.7,296.9 L428.7,301.1 L425.5,302.5 Z" fill="#fff" stroke="#1a1a1a" stroke-width="1.6" stroke-linejoin="miter" stroke-linecap="butt"/>
<path d="M436.0,278.2 L439.2,276.8 L439.2,281.2 L436.0,282.6 Z" fill="#fff" stroke="#1a1a1a" stroke-width="1.6" stroke-linejoin="miter" stroke-linecap="butt"/>
<path d="M435.9,293.8 L439.1,292.4 L439.1,296.6 L435.9,298.0 Z" fill="#fff" stroke="#1a1a1a" stroke-width="1.6" stroke-linejoin="miter" stroke-linecap="butt"/>
<path d="M446.4,273.7 L449.6,272.4 L449.6,276.8 L446.4,278.1 Z" fill="#fff" stroke="#1a1a1a" stroke-width="1.6" stroke-linejoin="miter" stroke-linecap="butt"/>
<path d="M446.3,289.3 L449.5,288.0 L449.5,292.2 L446.3,293.5 Z" fill="#fff" stroke="#1a1a1a" stroke-width="1.6" stroke-linejoin="miter" stroke-linecap="butt"/>
<path d="M456.9,269.3 L460.1,268.0 L460.1,272.4 L456.9,273.7 Z" fill="#fff" stroke="#1a1a1a" stroke-width="1.6" stroke-linejoin="miter" stroke-linecap="butt"/>
<path d="M456.8,284.8 L460.0,283.5 L460.0,287.7 L456.8,289.0 Z" fill="#fff" stroke="#1a1a1a" stroke-width="1.6" stroke-linejoin="miter" stroke-linecap="butt"/>
<path d="M467.4,264.9 L470.6,263.5 L470.6,267.9 L467.4,269.3 Z" fill="#fff" stroke="#1a1a1a" stroke-width="1.6" stroke-linejoin="miter" stroke-linecap="butt"/>
<path d="M467.2,280.4 L470.4,279.0 L470.4,283.2 L467.2,284.6 Z" fill="#fff" stroke="#1a1a1a" stroke-width="1.6" stroke-linejoin="miter" stroke-linecap="butt"/>
<path d="M477.8,260.5 L481.0,259.1 L481.0,263.5 L477.8,264.9 Z" fill="#fff" stroke="#1a1a1a" stroke-width="1.6" stroke-linejoin="miter" stroke-linecap="butt"/>
<path d="M477.6,275.9 L480.8,274.5 L480.8,278.7 L477.6,280.1 Z" fill="#fff" stroke="#1a1a1a" stroke-width="1.6" stroke-linejoin="miter" stroke-linecap="butt"/>
<path d="M488.3,256.0 L491.5,254.7 L491.5,259.1 L488.3,260.4 Z" fill="#fff" stroke="#1a1a1a" stroke-width="1.6" stroke-linejoin="miter" stroke-linecap="butt"/>
<path d="M488.0,271.4 L491.2,270.1 L491.2,274.3 L488.0,275.6 Z" fill="#fff" stroke="#1a1a1a" stroke-width="1.6" stroke-linejoin="miter" stroke-linecap="butt"/>
<path d="M498.8,251.6 L502.0,250.3 L502.0,254.7 L498.8,256.0 Z" fill="#fff" stroke="#1a1a1a" stroke-width="1.6" stroke-linejoin="miter" stroke-linecap="butt"/>
<path d="M498.5,266.9 L501.7,265.6 L501.7,269.8 L498.5,271.1 Z" fill="#fff" stroke="#1a1a1a" stroke-width="1.6" stroke-linejoin="miter" stroke-linecap="butt"/>
<path d="M509.2,247.2 L512.4,245.8 L512.4,250.2 L509.2,251.6 Z" fill="#fff" stroke="#1a1a1a" stroke-width="1.6" stroke-linejoin="miter" stroke-linecap="butt"/>
<path d="M508.9,262.4 L512.1,261.1 L512.1,265.3 L508.9,266.6 Z" fill="#fff" stroke="#1a1a1a" stroke-width="1.6" stroke-linejoin="miter" stroke-linecap="butt"/>
<path d="M519.7,242.8 L522.9,241.4 L522.9,245.8 L519.7,247.2 Z" fill="#fff" stroke="#1a1a1a" stroke-width="1.6" stroke-linejoin="miter" stroke-linecap="butt"/>
<path d="M519.3,258.0 L522.5,256.6 L522.5,260.8 L519.3,262.2 Z" fill="#fff" stroke="#1a1a1a" stroke-width="1.6" stroke-linejoin="miter" stroke-linecap="butt"/>
<path d="M236.5,291.6 L277.9,273.6 L280.0,275.0 L280.0,556.4 L276.4,558.6 L270.5,561.0 L269.6,563.9 L253.8,572.2 L236.5,565.4 Z" fill="#fff" stroke="none"/>
<path d="M276.8,275.2 L276.8,557.0" fill="none" stroke="#1a1a1a" stroke-width="6.6" stroke-linejoin="miter" stroke-linecap="butt"/>
<path d="M276.4,284.4 L276.4,290.7" fill="none" stroke="#fff" stroke-width="1.9" stroke-linejoin="miter" stroke-linecap="butt"/>
<path d="M276.4,295.2 L276.4,303.8" fill="none" stroke="#fff" stroke-width="1.9" stroke-linejoin="miter" stroke-linecap="butt"/>
<path d="M276.4,307.4 L276.4,312.8" fill="none" stroke="#fff" stroke-width="1.9" stroke-linejoin="miter" stroke-linecap="butt"/>
<path d="M276.4,316.4 L276.4,324.0" fill="none" stroke="#fff" stroke-width="1.9" stroke-linejoin="miter" stroke-linecap="butt"/>
<path d="M276.5,355.8 L276.5,365.3" fill="none" stroke="#fff" stroke-width="2.0" stroke-linejoin="miter" stroke-linecap="butt"/>
<path d="M276.5,386.3 L276.5,395.8" fill="none" stroke="#fff" stroke-width="2.0" stroke-linejoin="miter" stroke-linecap="butt"/>
<path d="M276.5,416.8 L276.5,426.3" fill="none" stroke="#fff" stroke-width="2.0" stroke-linejoin="miter" stroke-linecap="butt"/>
<path d="M276.5,447.3 L276.5,456.8" fill="none" stroke="#fff" stroke-width="2.0" stroke-linejoin="miter" stroke-linecap="butt"/>
<path d="M276.5,477.8 L276.5,487.3" fill="none" stroke="#fff" stroke-width="2.0" stroke-linejoin="miter" stroke-linecap="butt"/>
<path d="M276.5,508.3 L276.5,517.8" fill="none" stroke="#fff" stroke-width="2.0" stroke-linejoin="miter" stroke-linecap="butt"/>
<path d="M276.5,538.8 L276.5,554.5" fill="none" stroke="#fff" stroke-width="2.0" stroke-linejoin="miter" stroke-linecap="butt"/>
<path d="M276.5,343.2 L276.5,346.2" fill="none" stroke="#fff" stroke-width="2.0" stroke-linejoin="miter" stroke-linecap="butt"/>
<path d="M276.5,373.7 L276.5,376.7" fill="none" stroke="#fff" stroke-width="2.0" stroke-linejoin="miter" stroke-linecap="butt"/>
<path d="M276.5,404.2 L276.5,407.2" fill="none" stroke="#fff" stroke-width="2.0" stroke-linejoin="miter" stroke-linecap="butt"/>
<path d="M276.5,434.7 L276.5,437.7" fill="none" stroke="#fff" stroke-width="2.0" stroke-linejoin="miter" stroke-linecap="butt"/>
<path d="M276.5,465.2 L276.5,468.2" fill="none" stroke="#fff" stroke-width="2.0" stroke-linejoin="miter" stroke-linecap="butt"/>
<path d="M276.5,495.7 L276.5,498.7" fill="none" stroke="#fff" stroke-width="2.0" stroke-linejoin="miter" stroke-linecap="butt"/>
<path d="M276.5,526.2 L276.5,529.2" fill="none" stroke="#fff" stroke-width="2.0" stroke-linejoin="miter" stroke-linecap="butt"/>
<path d="M235.6,292.0 L278.8,273.2" fill="none" stroke="#1a1a1a" stroke-width="3.0" stroke-linejoin="miter" stroke-linecap="butt"/>
<path d="M238.5,294.3 L272.5,279.7" fill="none" stroke="#1a1a1a" stroke-width="2.2" stroke-linejoin="miter" stroke-linecap="butt"/>
<path d="M246.2,292.4 L259.8,289.6 L268.5,290.6 L253.2,297.0 Z" fill="#fff" stroke="#1a1a1a" stroke-width="0.8" stroke-linejoin="miter" stroke-linecap="butt"/>
<path d="M237.0,292.6 L253.2,298.2 L269.4,291.0" fill="none" stroke="#1a1a1a" stroke-width="2.0" stroke-linejoin="miter" stroke-linecap="butt"/>
<path d="M253.3,298.0 L253.3,572.3" fill="none" stroke="#1a1a1a" stroke-width="1.9" stroke-linejoin="miter" stroke-linecap="butt"/>
<path d="M236.9,291.6 L236.9,565.6" fill="none" stroke="#1a1a1a" stroke-width="3.2" stroke-linejoin="miter" stroke-linecap="butt"/>
<path d="M269.3,288.0 L269.3,563.9" fill="none" stroke="#1a1a1a" stroke-width="1.9" stroke-linejoin="miter" stroke-linecap="butt"/>
<path d="M269.6,563.9 L270.5,561.0 L276.4,558.6 L280.0,556.2" fill="none" stroke="#1a1a1a" stroke-width="1.3" stroke-linejoin="miter" stroke-linecap="butt"/>
<path d="M236.5,565.2 L253.6,572.3 L269.6,565.4" fill="none" stroke="#1a1a1a" stroke-width="2.0" stroke-linejoin="miter" stroke-linecap="butt"/>
<path d="M665.0,125.2 L526.0,125.2 L330.3,224.2" fill="none" stroke="#1a1a1a" stroke-width="1.8" stroke-linejoin="miter" stroke-linecap="butt"/>
</svg>
<div class="lbl">1</div>
</body></html>
